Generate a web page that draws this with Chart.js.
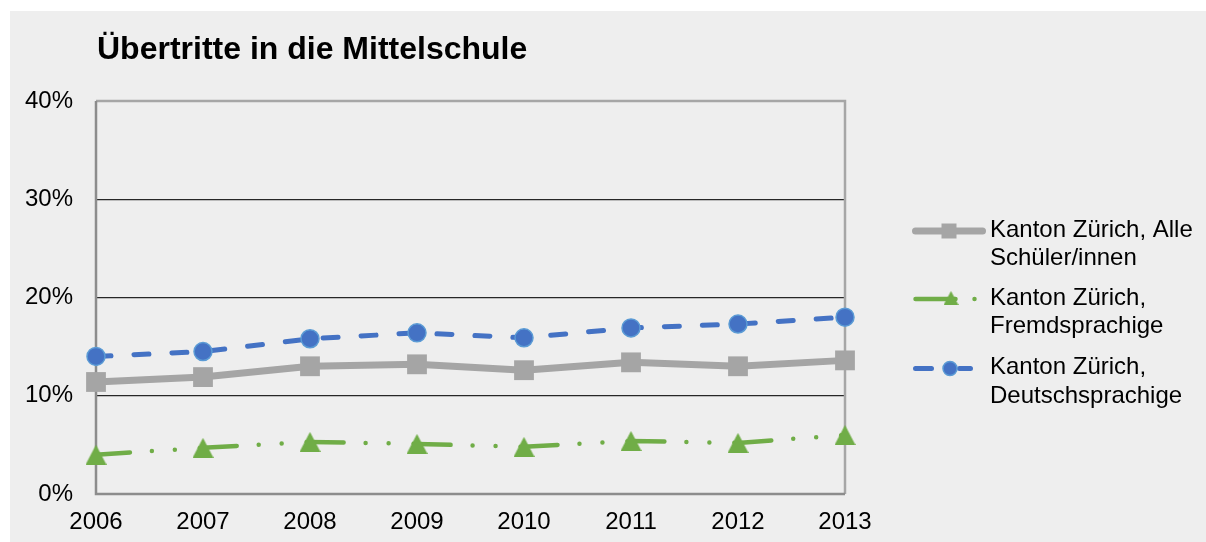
<!DOCTYPE html>
<html lang="de">
<head>
<meta charset="utf-8">
<title>Übertritte in die Mittelschule</title>
<script src="https://cdn.jsdelivr.net/npm/chart.js@4.4.1/dist/chart.umd.min.js"></script>
<style>
    html, body { margin: 0; padding: 0; background: #ffffff; }
    #frame {
        position: absolute;
        left: 10px;
        top: 11px;
        width: 1196px;
        height: 531px;
        background: #eeeeee;
    }
    #chart { display: block; }
</style>
</head>
<body>
<div id="frame">
    <canvas id="chart" width="1196" height="531"></canvas>
</div>
<script>
// Werte (in %)
const years = ['2006', '2007', '2008', '2009', '2010', '2011', '2012', '2013'];
const alleSchueler = [11.4, 11.9, 13.0, 13.2, 12.6, 13.4, 13.0, 13.6];
const fremdsprachige = [4.0, 4.7, 5.3, 5.1, 4.8, 5.4, 5.2, 6.0];
const deutschsprachige = [14.0, 14.5, 15.8, 16.4, 15.9, 16.9, 17.3, 18.0];
const yTicks = [0, 10, 20, 30, 40];
const seriesNames = [
    ['Kanton Zürich, Alle', 'Schüler/innen'],
    ['Kanton Zürich,', 'Fremdsprachige'],
    ['Kanton Zürich,', 'Deutschsprachige']
];
const chartTitle = 'Übertritte in die Mittelschule';

const FONT = '"Liberation Sans", Arial, sans-serif';
const GRAY = '#a5a5a5';
const GREEN = '#70ad47';
const BLUE = '#4472c4';
const BLUE_EDGE = '#5b9bd5';

// triangle marker centred on its bounding box (like Excel)
function triangleMarker(w, h, color) {
    const c = document.createElement('canvas');
    c.width = w;
    c.height = h;
    const g = c.getContext('2d');
    g.fillStyle = color;
    g.beginPath();
    g.moveTo(w / 2, 0);
    g.lineTo(w, h);
    g.lineTo(0, h);
    g.closePath();
    g.fill();
    return c;
}

// frame around the plot area, under the lines
const plotFrame = {
    id: 'plotFrame',
    beforeDatasetsDraw(chart) {
        const { ctx, chartArea: a } = chart;
        ctx.save();
        ctx.lineWidth = 2.5;
        ctx.strokeStyle = '#a6a6a6';
        ctx.beginPath();
        ctx.moveTo(a.left, a.top);
        ctx.lineTo(a.right, a.top);
        ctx.lineTo(a.right, a.bottom);
        ctx.stroke();
        ctx.strokeStyle = '#8c8c8c';
        ctx.beginPath();
        ctx.moveTo(a.left, a.top);
        ctx.lineTo(a.left, a.bottom);
        ctx.lineTo(a.right, a.bottom);
        ctx.stroke();
        ctx.restore();
    }
};

// title and the legend on the right with two-line labels
const sideLegend = {
    id: 'sideLegend',
    afterDraw(chart) {
        const ctx = chart.ctx;
        const a = chart.chartArea;
        ctx.save();

        ctx.fillStyle = '#000000';
        ctx.font = 'bold 32px ' + FONT;
        ctx.textBaseline = 'alphabetic';
        ctx.textAlign = 'left';
        ctx.fillText(chartTitle, a.left + 1, 48);

        const rows = [219, 287, 356.5];
        const x0 = 905.5, x1 = 972.5, mx = 939;
        const dashes = [[], [40, 19, 0, 200], [16, 28, 11, 200]];

        chart.data.datasets.forEach((ds, i) => {
            const y = rows[i] + 1;
            ctx.strokeStyle = ds.borderColor;
            ctx.lineWidth = ds.borderWidth;
            ctx.lineCap = 'round';
            ctx.setLineDash(dashes[i]);
            ctx.beginPath();
            ctx.moveTo(x0, y);
            ctx.lineTo(x1, y);
            ctx.stroke();
            ctx.setLineDash([]);

            if (i === 0) {
                ctx.fillStyle = GRAY;
                ctx.fillRect(mx - 7.5, y - 7.5, 15, 15);
            } else if (i === 1) {
                ctx.drawImage(triangleMarker(15, 14, GREEN), mx + 2 - 7.5, y - 8);
            } else {
                ctx.beginPath();
                ctx.arc(mx + 1, y, 7, 0, Math.PI * 2);
                ctx.fillStyle = BLUE;
                ctx.fill();
                ctx.lineWidth = 1.5;
                ctx.strokeStyle = BLUE_EDGE;
                ctx.stroke();
            }

            ctx.fillStyle = '#000000';
            ctx.font = '24px ' + FONT;
            ctx.textBaseline = 'middle';
            seriesNames[i].forEach((line, k) => {
                ctx.fillText(line, 980, rows[i] + k * 28.5);
            });
        });
        ctx.restore();
    }
};

const ctx = document.getElementById('chart').getContext('2d');
const chart = new Chart(ctx, {
    type: 'line',
    data: {
        labels: years,
        datasets: [
            {
                label: seriesNames[0].join(' '),
                data: alleSchueler,
                borderColor: GRAY,
                backgroundColor: GRAY,
                borderWidth: 7,
                borderJoinStyle: 'round',
                pointStyle: 'rect',
                pointRadius: 14,
                pointBorderWidth: 0,
                pointBackgroundColor: GRAY,
                tension: 0,
                clip: false
            },
            {
                label: seriesNames[1].join(' '),
                data: fremdsprachige,
                borderColor: GREEN,
                backgroundColor: GREEN,
                borderWidth: 4.5,
                borderCapStyle: 'round',
                borderDash: [37, 22, 0, 23, 0, 25],
                borderDashOffset: 3,
                pointStyle: triangleMarker(21, 20, GREEN),
                pointRadius: 10,
                tension: 0,
                clip: false
            },
            {
                label: seriesNames[2].join(' '),
                data: deutschsprachige,
                borderColor: BLUE,
                backgroundColor: BLUE,
                borderWidth: 5,
                borderCapStyle: 'round',
                borderDash: [15, 23],
                borderDashOffset: 0,
                pointStyle: 'circle',
                pointRadius: 9,
                pointBorderWidth: 1.5,
                pointBorderColor: BLUE_EDGE,
                pointBackgroundColor: BLUE,
                tension: 0,
                clip: false
            }
        ]
    },
    options: {
        responsive: false,
        animation: false,
        layout: {
            padding: { top: 90, right: 361, bottom: 0, left: 0 }
        },
        plugins: {
            legend: { display: false },
            title: { display: false },
            tooltip: { enabled: false }
        },
        scales: {
            x: {
                offset: false,
                grid: { display: false, drawTicks: false },
                border: { display: false },
                ticks: {
                    padding: 14,
                    autoSkip: false,
                    maxRotation: 0,
                    color: '#000000',
                    font: { family: FONT, size: 24 }
                },
                afterFit(scale) { scale.height = 48; }
            },
            y: {
                min: yTicks[0],
                max: yTicks[yTicks.length - 1],
                afterBuildTicks(scale) {
                    scale.ticks = yTicks.map(v => ({ value: v }));
                },
                grid: {
                    drawTicks: false,
                    lineWidth: 1.2,
                    color: c => (c.tick.value === yTicks[0] || c.tick.value === yTicks[yTicks.length - 1]) ? 'rgba(0,0,0,0)' : '#262626'
                },
                border: { display: false },
                ticks: {
                    padding: 23,
                    color: '#000000',
                    font: { family: FONT, size: 24 },
                    callback: v => v + '%'
                },
                afterFit(scale) { scale.width = 86; }
            }
        }
    },
    plugins: [plotFrame, sideLegend]
});
</script>
</body>
</html>
